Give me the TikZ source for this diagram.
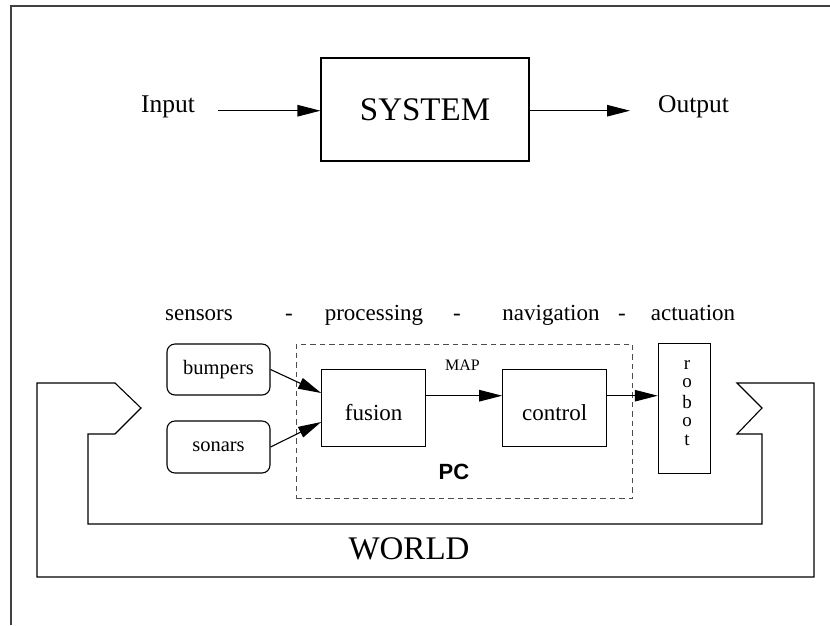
\documentclass[tikz,border=0pt]{standalone}
\usepackage{fontspec}
\setmainfont{Liberation Serif}
\newfontfamily\pcfont{Liberation Sans}
\usetikzlibrary{arrows.meta}
\begin{document}
\begin{tikzpicture}[x=1pt,y=-1pt,
  every node/.style={inner sep=0pt},
  ln/.style={line width=1.1pt},
  arr/.style={ln,-{Triangle[length=23pt,width=11.5pt]}},
  blk/.style={draw,ln},
  fsize/.style={font=\fontsize{#1}{#1}\selectfont}
]
\useasboundingbox (0,0) rectangle (830,625);
% frame
\draw[ln,black!75] (11,625) -- (11,6) -- (830,6);

% top system
\node[blk,minimum width=208pt,minimum height=103pt,fsize=33] (system) at (425,109.5) {SYSTEM};
\node[anchor=base,fsize=25.5] (input) at (168,112.3) {Input};
\node[anchor=base west,fsize=25.5] (output) at (658,112.3) {Output};
\coordinate (instart) at (218,110.7);
\coordinate (outend) at (630,110.7);
\draw[arr] (instart) -- (instart -| system.west);
\draw[arr] (system.east |- outend) -- (outend);

% row of stages
\node[anchor=base,fsize=23] (sensors) at (199,320.7) {sensors};
\node[anchor=base,fsize=23] (dasha) at (289,320.7) {-};
\node[anchor=base,fsize=23] (processing) at (374,320.7) {processing};
\node[anchor=base,fsize=23] (dashb) at (457,320.7) {-};
\node[anchor=base,fsize=23] (navigation) at (551,320.7) {navigation};
\node[anchor=base,fsize=23] (dashc) at (622,320.7) {-};
\node[anchor=base,fsize=23] (actuation) at (693,320.7) {actuation};

% PC dashed box
\node[draw,line width=1pt,black!70,dash pattern=on 5.5pt off 4pt,minimum width=336.7pt,minimum height=154pt] (pcbox) at (464.35,421) {};
\node[font=\pcfont\bfseries\fontsize{22}{22}\selectfont] (pc) at (454,472) {PC};

% sensors boxes
\node[blk,rounded corners=8pt,minimum width=103pt,minimum height=51pt,fsize=20.5] (bumpers) at (218.5,369.5) {bumpers};
\node[blk,rounded corners=8pt,minimum width=103pt,minimum height=52pt,fsize=20.5] (sonars) at (218.5,447) {sonars};

% fusion / control
\node[blk,minimum width=104pt,minimum height=77.4pt,text height=25pt,text depth=0pt,fsize=23] (fusion) at (373.7,408) {fusion};
\node[blk,minimum width=104pt,minimum height=77.4pt,text height=25pt,text depth=0pt,fsize=23] (control) at (554.7,408) {control};
\node[anchor=base,fsize=16] (map) at (462.5,370.7) {MAP};

% robot
\node[blk,minimum width=52pt,minimum height=130pt] (robot) at (684.3,408.3) {};
\node[anchor=base,fsize=19] (rob1) at (687,369.5) {r};
\node[anchor=base,fsize=19] (rob2) at (687,387.5) {o};
\node[anchor=base,fsize=19] (rob3) at (687,408.5) {b};
\node[anchor=base,fsize=19] (rob4) at (687,426.2) {o};
\node[anchor=base,fsize=19] (rob5) at (687,445.5) {t};

% arrows
\draw[arr] (bumpers.east) -- ([yshift=15pt]fusion.west);
\draw[arr] (sonars.east) -- ([yshift=-14pt]fusion.west);
\draw[arr] ([yshift=12.3pt]fusion.east) -- ([yshift=12.3pt]control.west);
\draw[arr] ([yshift=12.3pt]control.east) -- ([yshift=12.6pt]robot.west);

% world loop
\draw[ln] (115,383) -- (37,383) -- (37,577) -- (814,577) -- (814,383) -- (737,383)
  -- (762,408) -- (737,434) -- (762,434) -- (762,524) -- (88,524) -- (88,434)
  -- (115,434) -- (141,408) -- cycle;
\node[anchor=base,fsize=33] (world) at (409,559.3) {WORLD};
\end{tikzpicture}
\end{document}
